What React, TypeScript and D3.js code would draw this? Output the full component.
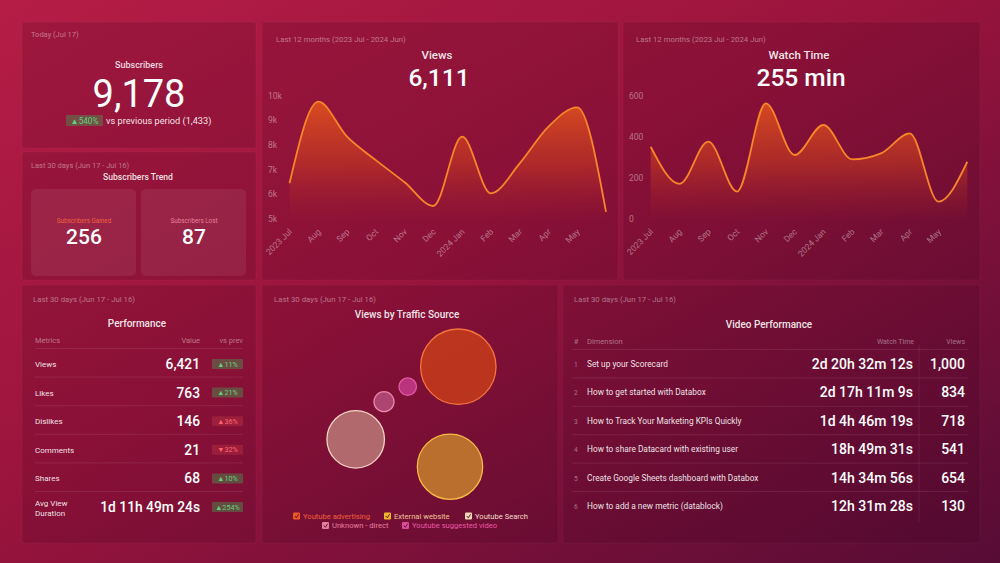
import React from "react";
import * as d3 from "d3";

const months = ["Jul", "Aug", "Sep", "Oct", "Nov", "Dec", "Jan", "Feb", "Mar", "Apr", "May", "Jun"];
const xTickLabels = ["2023 Jul", "Aug", "Sep", "Oct", "Nov", "Dec", "2024 Jan", "Feb", "Mar", "Apr", "May"];
const viewsValues = [6460, 9770, 8350, 7400, 6500, 5540, 8350, 6050, 7270, 8760, 9540, 5300];
const viewsTicks = [5000, 6000, 7000, 8000, 9000, 10000];
const watchValues = [353, 172, 378, 135, 564, 313, 459, 292, 321, 418, 86, 280];
const watchTicks = [0, 200, 400, 600];

const perfMetrics = ["Views", "Likes", "Dislikes", "Comments", "Shares", "Avg View|Duration"];
const perfValues = ["6,421", "763", "146", "21", "68", "1d 11h 49m 24s"];
const perfChange = [11, 21, 36, -32, 10, 254];
const perfGood = [true, true, false, false, true, true];

const videoTitles = [
  "Set up your Scorecard",
  "How to get started with Databox",
  "How to Track Your Marketing KPIs Quickly",
  "How to share Datacard with existing user",
  "Create Google Sheets dashboard with Databox",
  "How to add a new metric (datablock)",
];
const videoWatch = ["2d 20h 32m 12s", "2d 17h 11m 9s", "1d 4h 46m 19s", "18h 49m 31s", "14h 34m 56s", "12h 31m 28s"];
const videoViews = ["1,000", "834", "718", "541", "654", "130"];

const sourceNames = ["Youtube advertising", "External website", "Youtube Search", "Unknown - direct", "Youtube suggested video"];
const sourceViews = [2610, 1960, 1520, 184, 140];
const sourceFill = ["#c23a1c", "#c27a2e", "#b87373", "#b24a78", "#c03785"];
const sourceStroke = ["#f5733c", "#f5bd45", "#f4d4c4", "#e884a8", "#e85aa8"];
const sourceLegendText = ["#f0603a", "#f3c39a", "#f5dccb", "#e87fa0", "#e85aa6"];
const sourceLegendBox = ["#ef5a22", "#f2b52a", "#f3d7b8", "#e47fa0", "#e04a9c"];
const sourceLayoutX = [0.483, 0.4, -0.543, -0.26, -0.023];
const sourceLayoutY = [-0.483, 0.517, 0.243, -0.133, -0.283];

const FONT = "Roboto, 'Noto Sans', sans-serif";
const muted = "rgba(255,255,255,0.42)";

function Panel({ x, y, w, h }: { x: number; y: number; w: number; h: number }) {
  return <rect x={x} y={y} width={w} height={h} rx={2} fill="rgba(50,0,22,0.16)" stroke="rgba(255,255,255,0.03)" />;
}

function LineArea(props: {
  id: string;
  values: number[];
  ticks: number[];
  domain: [number, number];
  fmt: (v: number) => string;
  x0: number;
  x1: number;
  yTop: number;
  yBot: number;
  labelX: number;
}) {
  const { id, values, ticks, domain, fmt, x0, x1, yTop, yBot, labelX } = props;
  const x = d3.scalePoint<string>().domain(months).range([x0, x1]);
  const y = d3.scaleLinear().domain(domain).range([yBot, yTop]);
  const line = d3
    .line<number>()
    .x((_, i) => x(months[i])!)
    .y((d) => y(d))
    .curve(d3.curveMonotoneX);
  const area = d3
    .area<number>()
    .x((_, i) => x(months[i])!)
    .y0(yBot)
    .y1((d) => y(d))
    .curve(d3.curveMonotoneX);
  return (
    <g>
      <defs>
        <linearGradient id={id} gradientUnits="userSpaceOnUse" x1={0} y1={yTop} x2={0} y2={yBot}>
          <stop offset="0%" stopColor="#e5561c" stopOpacity={0.9} />
          <stop offset="55%" stopColor="#d2421c" stopOpacity={0.5} />
          <stop offset="100%" stopColor="#b02a25" stopOpacity={0.02} />
        </linearGradient>
      </defs>
      {ticks.map((t) => (
        <text key={t} x={labelX} y={y(t)} dy="0.33em" fontSize={8.5} fill={muted} fontFamily={FONT}>
          {fmt(t)}
        </text>
      ))}
      <path d={area(values)!} fill={`url(#${id})`} />
      <path d={line(values)!} fill="none" stroke="#f7852a" strokeWidth={1.8} />
      {xTickLabels.map((lab, i) => {
        const tx = x(months[i])! + 3;
        return (
          <text
            key={lab}
            transform={`translate(${tx},${yBot + 13}) rotate(-45)`}
            textAnchor="end"
            fontSize={8.5}
            fill={muted}
            fontFamily={FONT}
          >
            {lab}
          </text>
        );
      })}
    </g>
  );
}

function Badge({ x, y, w, value, good }: { x: number; y: number; w: number; value: number; good: boolean }) {
  const txt = (value >= 0 ? "▲" : "▼") + Math.abs(value) + "%";
  return (
    <g>
      <rect x={x} y={y} width={w} height={10} rx={1} fill={good ? "rgba(70,150,80,0.45)" : "rgba(200,60,70,0.35)"} />
      <text x={x + w / 2} y={y + 7.6} textAnchor="middle" fontSize={7.2} fill={good ? "#5fd27e" : "#ff6470"} fontFamily={FONT}>
        {txt}
      </text>
    </g>
  );
}

export default function App() {
  const rScale = d3.scaleSqrt().domain([0, d3.max(sourceViews)!]).range([0, 37.7]);
  const bx = d3.scaleLinear().domain([-1, 1]).range([310, 510]);
  const by = d3.scaleLinear().domain([-1, 1]).range([315, 515]);

  const perfRowY = d3.range(perfMetrics.length).map((i) => 364 + i * 28.6);
  const vidRowY = d3.range(videoTitles.length).map((i) => 364 + i * 28.4);

  const legendRow1 = [0, 1, 2];
  const legendRow2 = [3, 4];
  const legendX1 = [293, 384, 465];
  const legendX2 = [322, 402];

  return (
    <div style={{ position: "fixed", left: 0, top: 0, width: 1000, height: 563 }}>
      <svg width={1000} height={563} style={{ display: "block" }} fontFamily={FONT}>
        <defs>
          <linearGradient id="bg" x1="0" y1="0" x2="1" y2="1">
            <stop offset="0%" stopColor="#b51d46" />
            <stop offset="45%" stopColor="#9a143d" />
            <stop offset="100%" stopColor="#560c35" />
          </linearGradient>
        </defs>
        <rect width={1000} height={563} fill="url(#bg)" />

        <Panel x={22} y={22} w={234} h={126} />
        <Panel x={22} y={152} w={234} h={128} />
        <Panel x={262} y={22} w={356} h={258} />
        <Panel x={623} y={22} w={357} h={258} />
        <Panel x={22} y={285} w={234} h={258} />
        <Panel x={262} y={285} w={296} h={258} />
        <Panel x={563} y={285} w={417} h={258} />

        {/* Subscribers */}
        <text x={31} y={37} fontSize={7.5} fill={muted}>Today (Jul 17)</text>
        <text x={139} y={68} textAnchor="middle" fontSize={9} fontWeight={500} fill="rgba(255,255,255,0.85)">Subscribers</text>
        <text x={139} y={107} textAnchor="middle" fontSize={38} fontWeight={400} fill="#fff">9,178</text>
        <rect x={66} y={115} width={37} height={11} rx={1} fill="rgba(70,150,80,0.45)" />
        <text x={84.5} y={123.6} textAnchor="middle" fontSize={8.2} fill="#5fd27e">▲540%</text>
        <text x={106} y={124} fontSize={9.2} fill="rgba(255,255,255,0.9)">vs previous period (1,433)</text>

        {/* Subscribers trend */}
        <text x={31} y={168} fontSize={7.5} fill={muted}>Last 30 days (Jun 17 - Jul 16)</text>
        <text x={138} y={180} textAnchor="middle" fontSize={8.6} fontWeight={500} fill="rgba(255,255,255,0.88)">Subscribers Trend</text>
        <rect x={31} y={189} width={105} height={87} rx={5} fill="rgba(255,255,255,0.07)" />
        <rect x={141} y={189} width={105} height={87} rx={5} fill="rgba(255,255,255,0.07)" />
        <text x={84} y={223} textAnchor="middle" fontSize={6.3} fill="#f2603e">Subscribers Gained</text>
        <text x={84} y={244} textAnchor="middle" fontSize={21} fontWeight={500} fill="#fff">256</text>
        <text x={194} y={223} textAnchor="middle" fontSize={6.3} fill="#e9809c">Subscribers Lost</text>
        <text x={194} y={244} textAnchor="middle" fontSize={21} fontWeight={500} fill="#fff">87</text>

        {/* Views chart */}
        <text x={276} y={42} fontSize={7.8} fill={muted}>Last 12 months (2023 Jul - 2024 Jun)</text>
        <text x={437} y={59} textAnchor="middle" fontSize={11.5} fontWeight={500} fill="rgba(255,255,255,0.9)">Views</text>
        <text x={439} y={86} textAnchor="middle" fontSize={24.5} fontWeight={500} fill="#fff">6,111</text>
        <LineArea
          id="gViews"
          values={viewsValues}
          ticks={viewsTicks}
          domain={[5000, 10000]}
          fmt={(v) => v / 1000 + "k"}
          x0={289.5}
          x1={606}
          yTop={96}
          yBot={219.3}
          labelX={268}
        />

        {/* Watch time */}
        <text x={636} y={42} fontSize={7.8} fill={muted}>Last 12 months (2023 Jul - 2024 Jun)</text>
        <text x={799} y={59} textAnchor="middle" fontSize={11.5} fontWeight={500} fill="rgba(255,255,255,0.9)">Watch Time</text>
        <text x={801} y={86} textAnchor="middle" fontSize={24.5} fontWeight={500} fill="#fff">255 min</text>
        <LineArea
          id="gWatch"
          values={watchValues}
          ticks={watchTicks}
          domain={[0, 600]}
          fmt={(v) => String(v)}
          x0={650.7}
          x1={967.3}
          yTop={96}
          yBot={219.3}
          labelX={629}
        />

        {/* Performance */}
        <text x={33} y={302} fontSize={7.8} fill={muted}>Last 30 days (Jun 17 - Jul 16)</text>
        <text x={137} y={327} textAnchor="middle" fontSize={10} fontWeight={500} fill="rgba(255,255,255,0.9)">Performance</text>
        <text x={35} y={343} fontSize={7.5} fill={muted}>Metrics</text>
        <text x={200} y={343} textAnchor="end" fontSize={7.5} fill={muted}>Value</text>
        <text x={243} y={343} textAnchor="end" fontSize={7.5} fill={muted}>vs prev</text>
        {perfMetrics.map((m, i) => {
          const cy = perfRowY[i];
          const parts = m.split("|");
          return (
            <g key={m}>
              <line x1={35} x2={243} y1={cy - 15.5} y2={cy - 15.5} stroke="rgba(255,255,255,0.09)" />
              {parts.length === 1 ? (
                <text x={35} y={cy + 3} fontSize={8} fill="rgba(255,255,255,0.9)">{m}</text>
              ) : (
                <>
                  <text x={35} y={cy - 1} fontSize={8} fill="rgba(255,255,255,0.9)">{parts[0]}</text>
                  <text x={35} y={cy + 8.5} fontSize={8} fill="rgba(255,255,255,0.9)">{parts[1]}</text>
                </>
              )}
              <text x={200} y={cy + 5} textAnchor="end" fontSize={13.8} fontWeight={500} fill="#fff">{perfValues[i]}</text>
              <Badge x={212} y={cy - 5} w={31} value={perfChange[i]} good={perfGood[i]} />
            </g>
          );
        })}

        {/* Traffic source */}
        <text x={274} y={302} fontSize={7.8} fill={muted}>Last 30 days (Jun 17 - Jul 16)</text>
        <text x={407} y={318} textAnchor="middle" fontSize={10} fontWeight={500} fill="rgba(255,255,255,0.9)">Views by Traffic Source</text>
        {sourceNames.map((n, i) => (
          <circle
            key={n}
            cx={bx(sourceLayoutX[i])}
            cy={by(sourceLayoutY[i])}
            r={rScale(sourceViews[i])}
            fill={sourceFill[i]}
            fillOpacity={0.9}
            stroke={sourceStroke[i]}
            strokeWidth={1.3}
          />
        ))}
        {[legendRow1, legendRow2].map((row, ri) =>
          row.map((idx, k) => {
            const lx = (ri === 0 ? legendX1 : legendX2)[k];
            const ly = ri === 0 ? 516 : 525.5;
            return (
              <g key={sourceNames[idx]}>
                <rect x={lx} y={ly - 3.6} width={7} height={7} rx={1.2} fill={sourceLegendBox[idx]} />
                <path d={`M${lx + 1.8},${ly} l1.6,1.8 l2.2,-3.6`} fill="none" stroke="#4a0a20" strokeWidth={0.9} />
                <text x={lx + 10} y={ly + 2.8} fontSize={7.6} fill={sourceLegendText[idx]}>{sourceNames[idx]}</text>
              </g>
            );
          })
        )}

        {/* Video performance */}
        <text x={574} y={302} fontSize={7.8} fill={muted}>Last 30 days (Jun 17 - Jul 16)</text>
        <text x={769} y={328} textAnchor="middle" fontSize={10} fontWeight={500} fill="rgba(255,255,255,0.9)">Video Performance</text>
        <text x={574} y={344} fontSize={7} fill={muted}>#</text>
        <text x={587} y={344} fontSize={7.5} fill={muted}>Dimension</text>
        <text x={914} y={344} textAnchor="end" fontSize={7} fill={muted}>Watch Time</text>
        <text x={965} y={344} textAnchor="end" fontSize={7} fill={muted}>Views</text>
        <line x1={919} x2={919} y1={345} y2={522} stroke="rgba(255,255,255,0.07)" />
        {videoTitles.map((t, i) => {
          const cy = vidRowY[i];
          return (
            <g key={t}>
              <line x1={572} x2={968} y1={cy - 14.5} y2={cy - 14.5} stroke="rgba(255,255,255,0.09)" />
              <text x={574} y={cy + 3} fontSize={6.5} fill={muted}>{i + 1}</text>
              <text x={587} y={cy + 3} fontSize={8.3} fill="rgba(255,255,255,0.9)">{t}</text>
              <text x={913} y={cy + 5} textAnchor="end" fontSize={14} fontWeight={500} fill="#fff">{videoWatch[i]}</text>
              <text x={965} y={cy + 5} textAnchor="end" fontSize={14} fontWeight={500} fill="#fff">{videoViews[i]}</text>
            </g>
          );
        })}
      </svg>
    </div>
  );
}
